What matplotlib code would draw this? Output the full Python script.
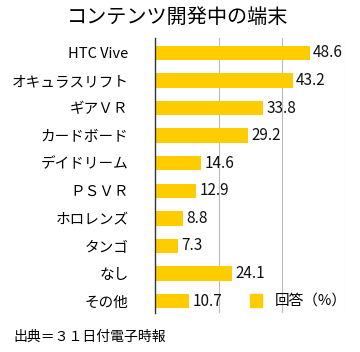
import matplotlib
matplotlib.use('Agg')
import matplotlib.pyplot as plt
from matplotlib.patches import Rectangle

plt.rcParams['font.family'] = ['Noto Sans CJK JP', 'DejaVu Sans']

devices = ['HTC Vive', 'オキュラスリフト', 'ギアＶＲ', 'カードボード', 'デイドリーム',
           'ＰＳＶＲ', 'ホロレンズ', 'タンゴ', 'なし', 'その他']
values = [48.6, 43.2, 33.8, 29.2, 14.6, 12.9, 8.8, 7.3, 24.1, 10.7]
color = '#FFCC00'

fig = plt.figure(figsize=(3.6, 3.52), dpi=100)
ax = fig.add_axes([155/360, 1-313/352, (346-155)/360, (313-38)/352])

y = list(range(len(devices)))
ax.barh(y, values, height=0.52, color=color, zorder=2)
for yi, v in zip(y, values):
    ax.text(v + 1.1, yi, f'{v}', va='center', ha='left', fontsize=11, color='#111111')

ax.set_xlim(0, 60)
ax.set_ylim(9.43, -0.54)
ax.set_xticks([20, 40, 60])
ax.xaxis.grid(True, color='#bbbbbb', linewidth=0.8, zorder=0)
ax.tick_params(axis='x', length=0, labelbottom=False)
ax.tick_params(axis='y', length=0, pad=19, labelsize=10.5)
ax.set_yticks(y)
ax.set_yticklabels(devices)
for s in ['top', 'right', 'bottom']:
    ax.spines[s].set_visible(False)
ax.spines['left'].set_color('#333333')
ax.spines['left'].set_linewidth(1.0)

# legend
fig.patches.append(Rectangle((250/360, 1-307/352), 12/360, 13/352,
                             transform=fig.transFigure, color=color))
fig.text(275/360, 1-301/352, '回答（%）', fontsize=10.5, va='center', ha='left')

fig.text(178/360, 1-17/352, 'コンテンツ開発中の端末', fontsize=14.5, ha='center', va='center')
fig.text(13/360, 1-337/352, '出典＝３１日付電子時報', fontsize=10, ha='left', va='center')

fig.savefig('out.png', dpi=100)
